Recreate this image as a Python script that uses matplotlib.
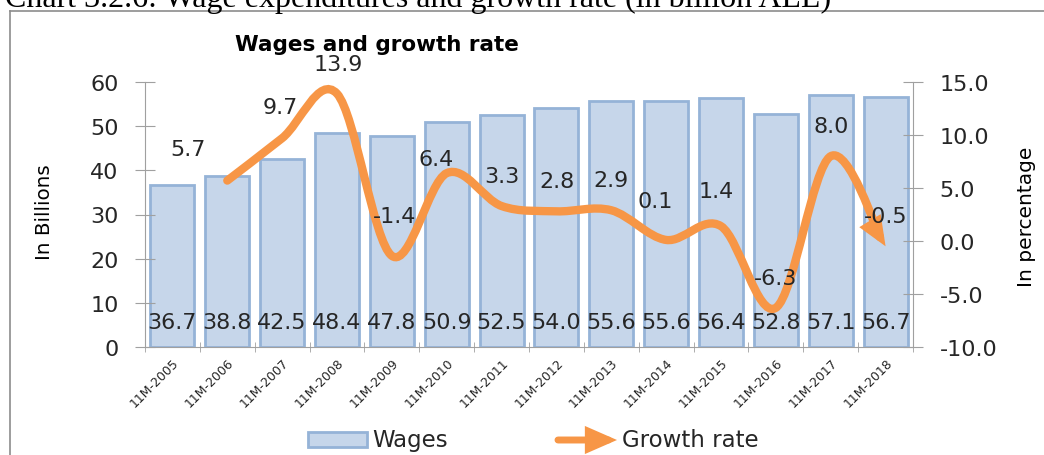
import numpy as np
import matplotlib
matplotlib.use('Agg')
import matplotlib.pyplot as plt
import matplotlib.transforms as mtransforms
from matplotlib.path import Path
from matplotlib.patches import FancyArrowPatch, Rectangle
from matplotlib.lines import Line2D

# data
years = ['11M-2005', '11M-2006', '11M-2007', '11M-2008', '11M-2009', '11M-2010', '11M-2011',
         '11M-2012', '11M-2013', '11M-2014', '11M-2015', '11M-2016', '11M-2017', '11M-2018']
wages = [36.7, 38.8, 42.5, 48.4, 47.8, 50.9, 52.5, 54.0, 55.6, 55.6, 56.4, 52.8, 57.1, 56.7]
growth = [5.7, 9.7, 13.9, -1.4, 6.4, 3.3, 2.8, 2.9, 0.1, 1.4, -6.3, 8.0, -0.5]  # 2006..2018

# nudges of the growth labels (pixels), as placed in the original
lbl_dx = [-39, -2, 1, 3, -11, 0, 1, 0, -11, -5, 0, 0, 0]
lbl_dy = [32, 31, 30, 40, 14, 30, 30, 30, 39, 35, 30, 30, 30]

BAR_FACE = '#C6D6EA'
BAR_EDGE = '#95B3D7'
ORANGE = '#F79646'
AXIS_GREY = '#A0A0A0'
TXT = '#262626'
NUM_SIZE = 16


def smooth_path(xs, ys):
    # excel-like smoothed line: bezier segments through the points
    pts = np.column_stack([xs, ys]).astype(float)
    n = len(pts)
    verts = [pts[0]]
    codes = [Path.MOVETO]
    for i in range(n - 1):
        p0 = pts[max(i - 1, 0)]
        p1 = pts[i]
        p2 = pts[i + 1]
        p3 = pts[min(i + 2, n - 1)]
        verts += [p1 + (p2 - p0) / 6, p2 - (p3 - p1) / 6, p2]
        codes += [Path.CURVE4] * 3
    return Path(verts, codes)


plt.rcParams['font.family'] = 'DejaVu Sans'
fig = plt.figure(figsize=(10.44, 4.56), dpi=100)
ax = fig.add_axes([145 / 1044, 1 - 348 / 456, 768 / 1044, 265 / 456])
ax2 = ax.twinx()

x = np.arange(len(years))
ax.bar(x, wages, width=0.8, color=BAR_FACE, edgecolor=BAR_EDGE, linewidth=2)
for xi, w in zip(x, wages):
    ax.annotate(f'{w:.1f}', (xi, 0), xytext=(0, 25), textcoords='offset pixels',
                ha='center', va='center', fontsize=NUM_SIZE, color=TXT)

ax.set_xlim(-0.5, len(years) - 0.5)
ax.set_ylim(0, 60)
ax.set_yticks(np.arange(0, 61, 10))
ax.set_xticks(x)
ax.set_xticklabels(years, rotation=45, ha='right', rotation_mode='anchor', fontsize=9, color=TXT)
shift = mtransforms.ScaledTranslation(-4 / 100, 0, fig.dpi_scale_trans)
for lbl in ax.get_xticklabels():
    lbl.set_transform(lbl.get_transform() + shift)
ax.set_xticks(np.arange(-0.5, len(years), 1), minor=True)
ax.tick_params(axis='x', which='major', length=0, pad=6)
ax.tick_params(axis='x', which='minor', direction='inout', length=7, color=AXIS_GREY)
ax.tick_params(axis='y', direction='inout', length=14, color=AXIS_GREY, labelsize=NUM_SIZE,
               labelcolor=TXT, pad=12)

gx = x[1:]
ax2.set_ylim(-10, 15)
ax2.set_yticks(np.arange(-10, 16, 5))
ax2.set_yticklabels([f'{v:.1f}' for v in np.arange(-10, 16, 5)])
ax2.tick_params(axis='y', direction='inout', length=14, color=AXIS_GREY, labelsize=NUM_SIZE,
                labelcolor=TXT, pad=12)

arrow = FancyArrowPatch(path=smooth_path(gx, growth), transform=ax2.transData,
                        arrowstyle='-|>,head_length=0.6,head_width=0.25', mutation_scale=18,
                        color=ORANGE, linewidth=6, capstyle='round', joinstyle='miter')
ax2.add_patch(arrow)
for xi, g, dx, dy in zip(gx, growth, lbl_dx, lbl_dy):
    ax2.annotate(f'{g:.1f}', (xi, g), xytext=(dx, dy), textcoords='offset pixels',
                 ha='center', va='center', fontsize=NUM_SIZE, color=TXT, zorder=5)

for a in (ax, ax2):
    a.spines['top'].set_visible(False)
    for s in a.spines.values():
        s.set_color(AXIS_GREY)
ax.spines['right'].set_visible(False)
ax2.spines['left'].set_visible(False)
ax2.spines['bottom'].set_visible(False)

fig.text(235 / 1044, 1 - 45 / 456, 'Wages and growth rate', fontsize=15.5, fontweight='bold',
         ha='left', va='center', color='black')
fig.text(45 / 1044, 1 - 212 / 456, 'In Billions', rotation=90, fontsize=14.3,
         ha='center', va='center', color='black')
fig.text(1027 / 1044, 1 - 217 / 456, 'In percentage', rotation=90, fontsize=14.5,
         ha='center', va='center', color='black')

# legend, drawn by hand
fig.patches.append(Rectangle((308 / 1044, 1 - 448 / 456), 59 / 1044, 15 / 456,
                             transform=fig.transFigure, facecolor=BAR_FACE,
                             edgecolor=BAR_EDGE, linewidth=2))
fig.text(372 / 1044, 1 - 441 / 456, 'Wages', fontsize=16.5, va='center', color=TXT)
fig.patches.append(FancyArrowPatch((558 / 1044, 1 - 441 / 456), (617 / 1044, 1 - 441 / 456),
                                   transform=fig.transFigure,
                                   arrowstyle='-|>,head_length=0.8,head_width=0.35',
                                   mutation_scale=18, color=ORANGE, linewidth=5,
                                   capstyle='round', joinstyle='miter', shrinkA=0, shrinkB=0))
fig.text(622 / 1044, 1 - 441 / 456, 'Growth rate', fontsize=16.5, va='center', color=TXT)

# frame and clipped caption of the source document
fig.lines.append(Line2D([10 / 1044, 10 / 1044], [0, 1 - 12 / 456], transform=fig.transFigure,
                        color='#8C8C8C', linewidth=1.2))
fig.lines.append(Line2D([10 / 1044, 1], [1 - 12 / 456, 1 - 12 / 456], transform=fig.transFigure,
                        color='#8C8C8C', linewidth=1.2))
fig.text(5 / 1044, 1 - 7 / 456, 'Chart 3.2.6: Wage expenditures and growth rate (in billion ALL)',
         family='Liberation Serif', fontsize=23, va='baseline', color='black')

fig.savefig('out.png', dpi=100)
